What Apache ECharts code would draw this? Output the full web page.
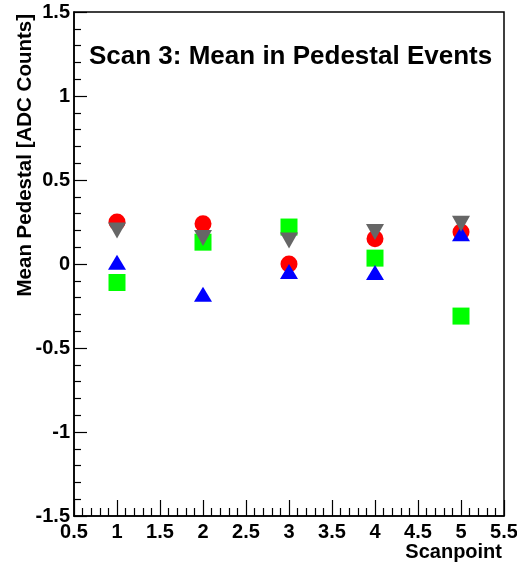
<!DOCTYPE html>
<html>
<head>
<meta charset="utf-8">
<script src="https://cdn.jsdelivr.net/npm/echarts@6/dist/echarts.min.js"></script>
<style>
  html, body { margin: 0; padding: 0; background: #ffffff; }
  #chart { width: 517px; height: 569px; }
</style>
</head>
<body>
<div id="chart"></div>
<script>
// scan points and the four sets of mean pedestal values
var scanpoints = [1, 2, 3, 4, 5];
var redMeans   = [0.25, 0.24, 0.00, 0.15, 0.19];
var greenMeans = [-0.11, 0.13, 0.22, 0.035, -0.31];
var blueMeans  = [0.01, -0.18, -0.045, -0.05, 0.18];
var grayMeans  = [0.20, 0.155, 0.14, 0.19, 0.24];

function pairs(vals) {
  return scanpoints.map(function (x, i) { return [x, vals[i]]; });
}

var chart = echarts.init(document.getElementById('chart'));
var labelFont = { color: '#000', fontFamily: 'Liberation Sans', fontWeight: 'bold', fontSize: 20 };

chart.setOption({
  animation: false,
  backgroundColor: '#fff',
  title: {
    text: 'Scan 3: Mean in Pedestal Events',
    left: 84,
    top: 39,
    textStyle: { fontFamily: 'Liberation Sans', fontWeight: 'bold', fontSize: 26, color: '#000' }
  },
  grid: {
    left: 74, top: 12, width: 430, height: 504,
    outerBoundsMode: 'none',
    show: true, borderColor: '#000', borderWidth: 1.5, backgroundColor: 'transparent'
  },
  xAxis: {
    type: 'value',
    min: 0.5, max: 5.5, interval: 0.5,
    name: 'Scanpoint',
    nameLocation: 'end',
    nameGap: 0,
    nameTextStyle: {
      fontFamily: 'Liberation Sans', fontWeight: 'bold', fontSize: 20, color: '#000',
      align: 'right', verticalAlign: 'top', padding: [26, 2, 0, 0]
    },
    axisLine: { show: true, onZero: false, lineStyle: { color: '#000', width: 1.5 } },
    axisTick: { show: true, inside: true, length: 16, lineStyle: { color: '#000', width: 1.2 } },
    minorTick: { show: true, splitNumber: 5, length: 8, lineStyle: { color: '#000', width: 1.2 } },
    axisLabel: Object.assign({ margin: 6 }, labelFont),
    splitLine: { show: false }
  },
  yAxis: {
    type: 'value',
    min: -1.5, max: 1.5, interval: 0.5,
    name: 'Mean Pedestal [ADC Counts]',
    nameLocation: 'end',
    nameRotate: 90,
    nameGap: 0,
    nameTextStyle: {
      fontFamily: 'Liberation Sans', fontWeight: 'bold', fontSize: 20.5, color: '#000',
      align: 'right', verticalAlign: 'bottom', padding: [0, 2, 38, 0]
    },
    axisLine: { show: true, onZero: false, lineStyle: { color: '#000', width: 1.5 } },
    axisTick: { show: true, inside: true, length: 13, lineStyle: { color: '#000', width: 1.2 } },
    minorTick: { show: true, splitNumber: 5, length: 7, lineStyle: { color: '#000', width: 1.2 } },
    axisLabel: Object.assign({ margin: 4 }, labelFont),
    splitLine: { show: false }
  },
  series: [
    { type: 'scatter', data: pairs(redMeans), symbol: 'circle', symbolSize: 17,
      itemStyle: { color: '#ff0000', opacity: 1 }, z: 2 },
    { type: 'scatter', data: pairs(greenMeans), symbol: 'rect', symbolSize: 17,
      itemStyle: { color: '#00ff00', opacity: 1 }, z: 3 },
    { type: 'scatter', data: pairs(blueMeans), symbol: 'triangle', symbolSize: [18, 15],
      itemStyle: { color: '#0000ff', opacity: 1 }, z: 4 },
    { type: 'scatter', data: pairs(grayMeans), symbol: 'triangle', symbolRotate: 180, symbolSize: [18, 16],
      itemStyle: { color: '#666666', opacity: 1 }, z: 5 }
  ]
});
</script>
</body>
</html>
